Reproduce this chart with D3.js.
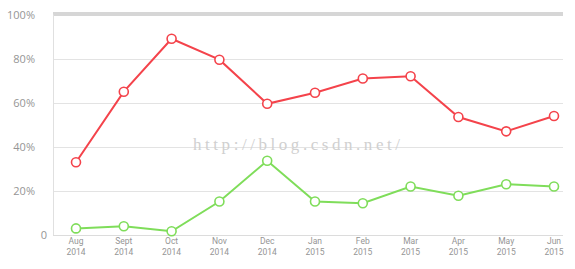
<!DOCTYPE html>
<html>
<head>
<meta charset="utf-8">
<script src="https://cdn.jsdelivr.net/npm/d3@7"></script>
<style>
  body { margin: 0; background: #fff; }
  svg { display: block; }
</style>
</head>
<body>
<div id="chart"></div>
<script>
const months = ["Aug", "Sept", "Oct", "Nov", "Dec", "Jan", "Feb", "Mar", "Apr", "May", "Jun"];
const years = ["2014", "2014", "2014", "2014", "2014", "2015", "2015", "2015", "2015", "2015", "2015"];
const redValues = [33, 65, 89, 79.5, 59.5, 64.5, 71, 72, 53.5, 47, 54];
const greenValues = [3, 4, 1.7, 15.2, 33.7, 15.2, 14.4, 22, 17.8, 23, 22];
const yTicks = [0, 20, 40, 60, 80, 100];

const width = 575, height = 269;
const plotLeft = 53, plotRight = 563, plotTop = 14, plotBottom = 235;

const svg = d3.select("#chart")
  .append("svg")
  .attr("width", width)
  .attr("height", height);

const x = d3.scalePoint()
  .domain(d3.range(months.length))
  .range([76, 554]);

const y = d3.scaleLinear()
  .domain([0, 100])
  .range([plotBottom, plotTop + 0.5]);

// gridlines
svg.append("g")
  .selectAll("line")
  .data(yTicks.filter(d => d > 0 && d < 100))
  .join("line")
  .attr("x1", plotLeft)
  .attr("x2", plotRight)
  .attr("y1", d => Math.round(y(d)) + 0.5)
  .attr("y2", d => Math.round(y(d)) + 0.5)
  .attr("stroke", "#e3e3e3")
  .attr("stroke-width", 1);

// thick top line
svg.append("rect")
  .attr("x", plotLeft)
  .attr("y", y(100) - 2.5)
  .attr("width", plotRight - plotLeft)
  .attr("height", 4)
  .attr("fill", "#d6d6d6");

// axes lines
svg.append("line")
  .attr("x1", plotLeft + 0.5).attr("x2", plotLeft + 0.5)
  .attr("y1", y(100)).attr("y2", plotBottom)
  .attr("stroke", "#e0e0e0");
svg.append("line")
  .attr("x1", plotLeft).attr("x2", plotRight)
  .attr("y1", plotBottom + 0.5).attr("y2", plotBottom + 0.5)
  .attr("stroke", "#dcdcdc");

// y labels
svg.append("g")
  .selectAll("text")
  .data(yTicks)
  .join("text")
  .attr("x", d => d === 0 ? 47 : 35)
  .attr("y", d => y(d) + 4)
  .attr("text-anchor", "end")
  .attr("font-family", "'Open Sans', Roboto, sans-serif")
  .attr("font-size", 11)
  .attr("fill", "#959595")
  .text(d => d === 0 ? "0" : d + "%");

// x labels, month and year as two separate texts
const xg = svg.append("g")
  .attr("font-family", "Roboto, sans-serif")
  .attr("font-size", 8.5)
  .attr("fill", "#959595")
  .attr("text-anchor", "middle");

xg.selectAll("text.month")
  .data(months)
  .join("text")
  .attr("class", "month")
  .attr("x", (d, i) => x(i))
  .attr("y", 244)
  .text(d => d);

xg.selectAll("text.year")
  .data(years)
  .join("text")
  .attr("class", "year")
  .attr("x", (d, i) => x(i))
  .attr("y", 254.5)
  .text(d => d);

// watermark
svg.append("text")
  .attr("x", 193)
  .attr("y", 150)
  .attr("font-family", "'Liberation Serif', serif")
  .attr("font-size", 17)
  .attr("textLength", 207)
  .attr("lengthAdjust", "spacing")
  .attr("fill", "#d0d0d0")
  .text("http://blog.csdn.net/");

const line = d3.line()
  .x((d, i) => x(i))
  .y(d => y(d));

function drawSeries(values, color) {
  svg.append("path")
    .datum(values)
    .attr("d", line)
    .attr("fill", "none")
    .attr("stroke", color)
    .attr("stroke-width", 2);

  svg.append("g")
    .selectAll("circle")
    .data(values)
    .join("circle")
    .attr("cx", (d, i) => x(i))
    .attr("cy", d => y(d))
    .attr("r", 4.5)
    .attr("fill", "#fff")
    .attr("stroke", color)
    .attr("stroke-width", 1.6);
}

drawSeries(greenValues, "#7fdd5a");
drawSeries(redValues, "#f4434b");
</script>
</body>
</html>
